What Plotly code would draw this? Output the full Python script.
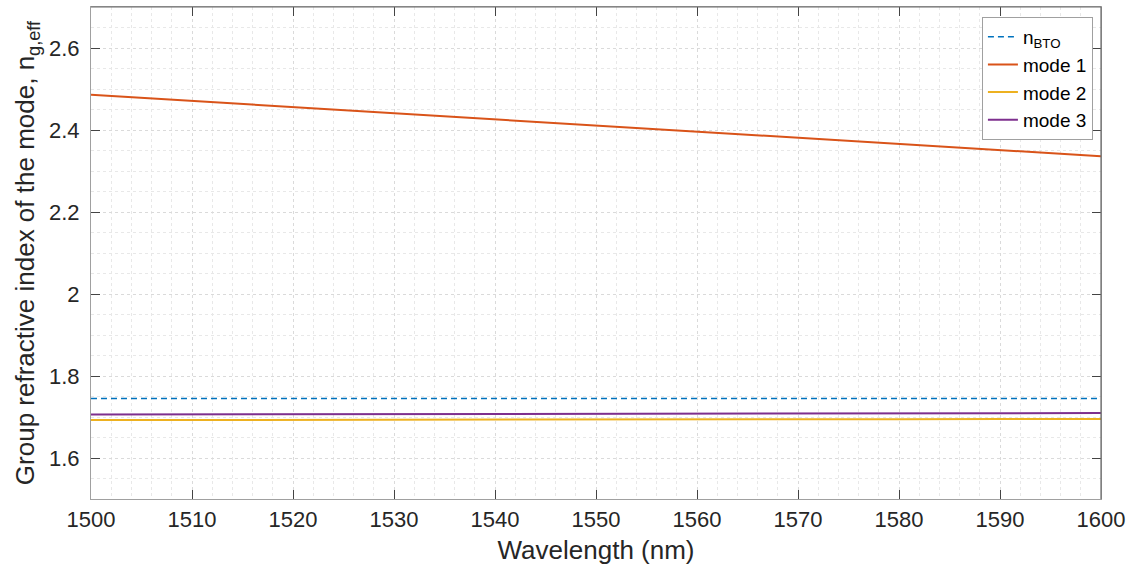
import plotly.graph_objects as go

# Wavelength samples (nm)
wavelength = [1500, 1510, 1520, 1530, 1540, 1550, 1560, 1570, 1580, 1590, 1600]

# Group indices
n_bto = [1.745, 1.745, 1.745, 1.745, 1.745, 1.745, 1.745, 1.745, 1.745, 1.745, 1.745]
mode1 = [2.486, 2.471, 2.457, 2.442, 2.427, 2.412, 2.397, 2.382, 2.367, 2.351, 2.336]
mode2 = [1.6925, 1.6930, 1.6935, 1.6938, 1.6940, 1.6942, 1.6944, 1.6946, 1.6948, 1.6950, 1.6951]
mode3 = [1.7062, 1.7065, 1.7068, 1.7071, 1.7074, 1.7077, 1.7080, 1.7083, 1.7086, 1.7090, 1.7095]

x_ticks = [1500, 1510, 1520, 1530, 1540, 1550, 1560, 1570, 1580, 1590, 1600]
y_ticks = [1.6, 1.8, 2.0, 2.2, 2.4, 2.6]
y_tick_text = ["1.6", "1.8", "2", "2.2", "2.4", "2.6"]

FONT = "Liberation Sans, Arial, Helvetica, sans-serif"
TXT = "#262626"

fig = go.Figure()
fig.add_trace(go.Scatter(x=wavelength, y=n_bto, mode="lines", name="n<sub>BTO</sub>",
                         line=dict(color="#0072BD", width=1.6, dash="6px,4px")))
fig.add_trace(go.Scatter(x=wavelength, y=mode1, mode="lines", name="mode 1",
                         line=dict(color="#D95319", width=2)))
fig.add_trace(go.Scatter(x=wavelength, y=mode2, mode="lines", name="mode 2",
                         line=dict(color="#EDB120", width=2)))
fig.add_trace(go.Scatter(x=wavelength, y=mode3, mode="lines", name="mode 3",
                         line=dict(color="#7E2F8E", width=2)))

grid_major = "#dadada"
grid_minor = "#e8e8e8"

fig.update_layout(
    width=1135, height=574,
    margin=dict(l=91, r=34, t=7, b=75),
    paper_bgcolor="white", plot_bgcolor="white",
    font=dict(family=FONT, color=TXT, size=20),
    showlegend=True,
    legend=dict(x=0.992, y=0.98, xanchor="right", yanchor="top",
                bgcolor="white", bordercolor="#a0a0a0", borderwidth=1,
                font=dict(size=19, color="#000000"),
                tracegroupgap=0, itemwidth=30),
)

fig.update_xaxes(
    range=[1500, 1600], tickvals=x_ticks,
    ticks="inside", ticklen=9, tickwidth=1, tickcolor="#444444",
    showline=True, linecolor="#a0a0a0", linewidth=1.2, mirror="allticks",
    showgrid=True, gridcolor=grid_major, griddash="dot", gridwidth=1,
    minor=dict(dtick=2, showgrid=True, gridcolor=grid_minor, griddash="dot", ticks=""),
    tickfont=dict(size=22, color=TXT),
    title=dict(text="Wavelength (nm)", font=dict(size=26, color=TXT), standoff=10),
    zeroline=False,
)
fig.update_yaxes(
    range=[1.5, 2.7], tickvals=y_ticks, ticktext=y_tick_text,
    ticks="inside", ticklen=9, tickwidth=1, tickcolor="#444444",
    showline=True, linecolor="#a0a0a0", linewidth=1.2, mirror="allticks",
    showgrid=True, gridcolor=grid_major, griddash="dot", gridwidth=1,
    minor=dict(dtick=0.05, tick0=1.5, showgrid=True, gridcolor=grid_minor, griddash="dot", ticks=""),
    tickfont=dict(size=22, color=TXT), ticklabelstandoff=6,
    title=dict(text="Group refractive index of the mode, n<sub>g,eff</sub>",
               font=dict(size=26, color=TXT), standoff=6),
    zeroline=False,
)

# darker top and right frame edges
fig.add_shape(type="line", xref="paper", yref="paper", x0=0, x1=1, y0=1, y1=1,
              line=dict(color="#6a6a6a", width=1.2))
fig.add_shape(type="line", xref="paper", yref="paper", x0=1, x1=1, y0=0, y1=1,
              line=dict(color="#6a6a6a", width=1.2))

fig.write_html("out.html")
